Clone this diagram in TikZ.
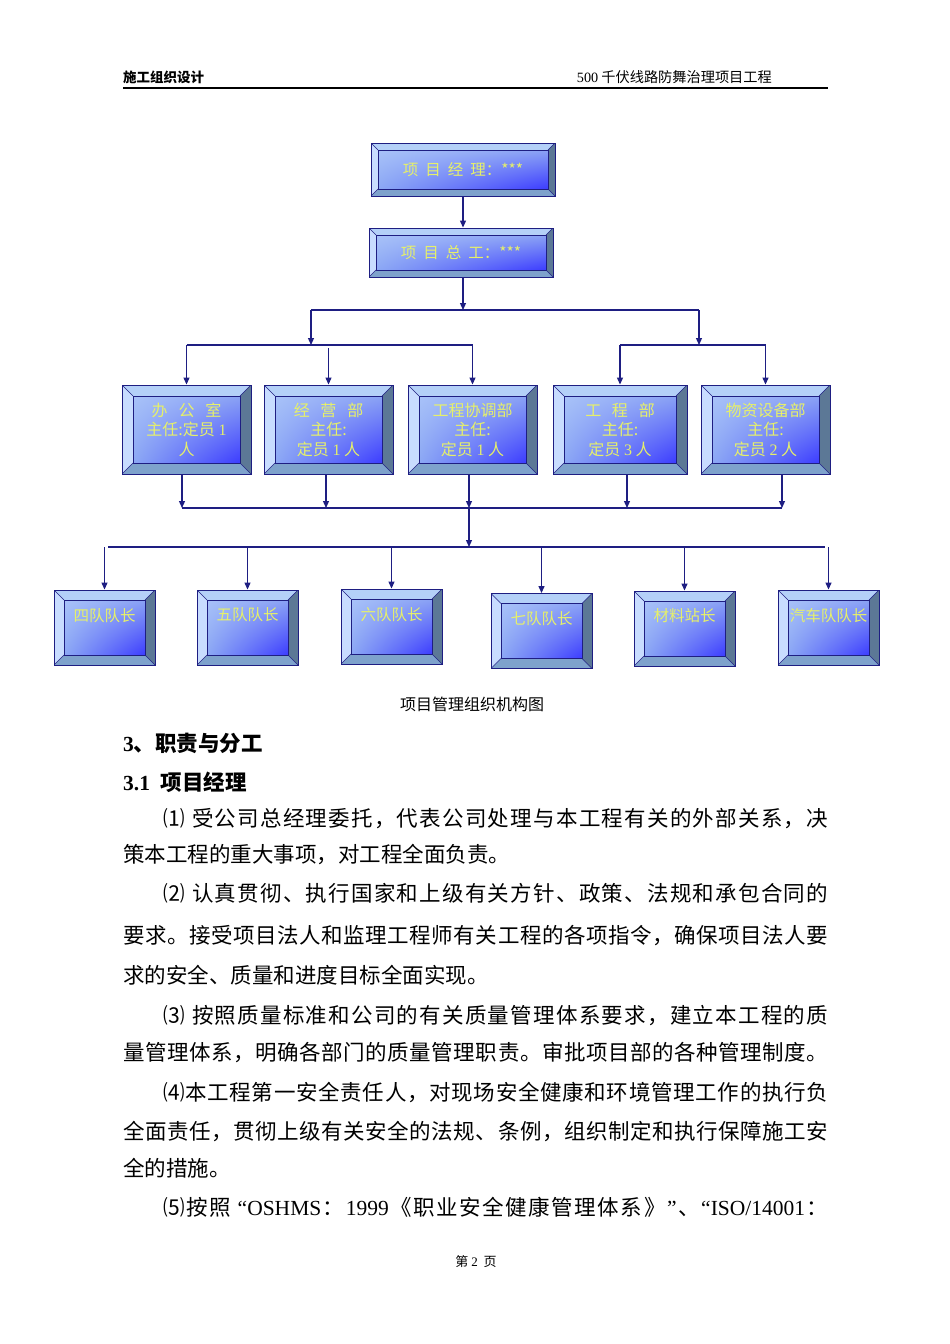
\documentclass[tikz,border=0pt]{standalone}
\usepackage{fontspec}
\setmainfont{Liberation Serif}
\newfontfamily\cjk{Noto Sans CJK SC}
\usetikzlibrary{arrows.meta,calc,shadings}
\definecolor{navy}{HTML}{1E1E82}
\definecolor{boxtxt}{HTML}{E6F06A}
\definecolor{bvtop}{HTML}{B4D0F8}
\definecolor{bvleft}{HTML}{C8DCFF}
\definecolor{bvright}{HTML}{5C7896}
\definecolor{bvbot}{HTML}{7EA2CC}
\definecolor{fUL}{HTML}{A8C2F8}
\definecolor{fUR}{HTML}{8AA2F4}
\definecolor{fLL}{HTML}{8CA8F4}
\definecolor{fLR}{HTML}{3C3CFF}
\newcommand\bodyfont{\cjk\fontsize{21.5}{26}\selectfont}
\newcommand\dg[1]{{\rmfamily #1}}
% spread a line of characters evenly over a given width
\newcommand\spreadline[2]{\hbox to #1{\spreadA#2\relax}}
\def\spreadA#1{{#1}\spreadB}
\def\spreadB#1{\ifx\relax#1\else\hskip 0pt plus 1fil{#1}\expandafter\spreadB\fi}
\tikzset{
  bevw/.store in=\bevw, bevw=10pt,
  bevbox/.style={draw=navy, line width=0.9pt, inner sep=0pt, text=boxtxt,
    font=\cjk\fontsize{16}{19.5}\selectfont, align=center,
    path picture={
      \coordinate (pnw) at (path picture bounding box.north west);
      \coordinate (pse) at (path picture bounding box.south east);
      \coordinate (pne) at (pnw -| pse);
      \coordinate (psw) at (pnw |- pse);
      \coordinate (inw) at ([shift={(\bevw,-\bevw)}]pnw);
      \coordinate (ine) at ([shift={(-\bevw,-\bevw)}]pne);
      \coordinate (ise) at ([shift={(-\bevw,\bevw)}]pse);
      \coordinate (isw) at ([shift={(\bevw,\bevw)}]psw);
      \fill[bvtop] (pnw) -- (pne) -- (ine) -- (inw) -- cycle;
      \fill[bvright] (pne) -- (pse) -- (ise) -- (ine) -- cycle;
      \fill[bvbot] (pse) -- (psw) -- (isw) -- (ise) -- cycle;
      \fill[bvleft] (psw) -- (pnw) -- (inw) -- (isw) -- cycle;
      \shade[upper left=fUL, upper right=fUR, lower left=fLL, lower right=fLR] (inw) rectangle (ise);
      \draw[navy, line width=0.8pt] (inw) rectangle (ise);
      \draw[navy, line width=0.6pt] (pnw) -- (inw) (pne) -- (ine) (pse) -- (ise) (psw) -- (isw);
    }},
  ln/.style={navy, line width=1.2pt},
  arr/.style={navy, line width=1.2pt, -{Triangle[length=7pt,width=6pt]}},
  body/.style={anchor=base west, inner sep=0pt, font=\bodyfont},
}
\begin{document}
\begin{tikzpicture}[x=1pt,y=-1pt]
\fill[white] (0,0) rectangle (950,1344);
\path[use as bounding box] (0,0) rectangle (950,1344);

% header
\node[anchor=west, inner sep=0pt, font=\cjk\bfseries\fontsize{13.5}{15}\selectfont] (hl) at (123,77) {施工组织设计};
\node[anchor=east, inner sep=0pt, font=\cjk\fontsize{14.2}{16}\selectfont] (hr) at (772,77) {\dg{500} 千伏线路防舞治理项目工程};
\coordinate (hla) at (123,88);
\coordinate (hlb) at (828,88);
\draw[black, line width=1.3pt] (hla) -- (hlb);

% top boxes
\node[bevbox, bevw=7pt, minimum width=184pt, minimum height=53pt, font=\cjk\fontsize{15.5}{18}\selectfont] (pm) at (463,169.5) {项\ \ 目\ \ 经\ \ 理：***};
\node[bevbox, bevw=7pt, minimum width=184pt, minimum height=49pt, font=\cjk\fontsize{15.5}{18}\selectfont] (ce) at (461,252.5) {项\ \ 目\ \ 总\ \ 工：***};

% middle boxes
\node[bevbox, bevw=11pt, minimum width=129pt, minimum height=89pt] (m1) at (186.5,429.5) {办\ \ \ 公\ \ \ 室\\主任:定员 \dg{1}\\人};
\node[bevbox, bevw=11pt, minimum width=129pt, minimum height=89pt] (m2) at (328.5,429.5) {经\ \ \ 营\ \ \ 部\\主任:\\定员 \dg{1} 人};
\node[bevbox, bevw=11pt, minimum width=129pt, minimum height=89pt] (m3) at (472.5,429.5) {工程协调部\\主任:\\定员 \dg{1} 人};
\node[bevbox, bevw=11pt, minimum width=134pt, minimum height=89pt] (m4) at (620,429.5) {工\ \ \ 程\ \ \ 部\\主任:\\定员 \dg{3} 人};
\node[bevbox, bevw=11pt, minimum width=129pt, minimum height=89pt] (m5) at (765.5,429.5) {物资设备部\\主任:\\定员 \dg{2} 人};

% bottom boxes
\tikzset{bbox/.style={bevbox, bevw=10pt, minimum width=101pt, minimum height=75pt, font=\cjk\fontsize{15.5}{18}\selectfont}}
\node[bbox] (b1) at (104.5,627.5) {\raisebox{25pt}{四队队长}};
\node[bbox] (b2) at (247.5,627.5) {\raisebox{27pt}{五队队长}};
\node[bbox] (b3) at (391.5,626.5) {\raisebox{25pt}{六队队长}};
\node[bbox] (b4) at (541.5,631) {\raisebox{26pt}{七队队长}};
\node[bbox] (b5) at (684.5,628.5) {\raisebox{27pt}{材料站长}};
\node[bbox] (b6) at (828.5,627.5) {\raisebox{25pt}{汽车队队长}};

% connectors top
\draw[arr] (pm.south) -- (pm.south |- ce.north);
\coordinate (cs) at ([xshift=2pt]ce.south);
\coordinate (t1) at (463,310);
\coordinate (tl) at (311,310);
\coordinate (tr) at (699,310);
\draw[arr] (cs) -- (t1);
\draw[ln] (tl) -- (tr);
\coordinate (gl) at (311,345);
\coordinate (gr) at (699,345);
\draw[arr] (tl) -- (gl);
\draw[arr] (tr) -- (gr);
\draw[ln] (m1.north |- gl) -- (m3.north |- gl);
\draw[arr] (m1.north |- gl) -- (m1.north);
\coordinate (g2) at ([yshift=-3pt]m2.north |- gl);
\draw[arr] (g2) -- (m2.north);
\draw[arr] (m3.north |- gl) -- (m3.north);
\draw[ln] (m4.north |- gr) -- (m5.north |- gr);
\draw[arr] (m4.north |- gr) -- (m4.north);
\draw[arr] (m5.north |- gr) -- (m5.north);

% connectors middle to bottom
\coordinate (hm) at (469,508);
\coordinate (o1) at ([xshift=-4.5pt]m1.south);
\coordinate (o2) at ([xshift=-2.5pt]m2.south);
\coordinate (o3) at ([xshift=-3.5pt]m3.south);
\coordinate (o4) at ([xshift=7pt]m4.south);
\coordinate (o5) at ([xshift=16.5pt]m5.south);
\draw[ln] (o1 |- hm) -- (o5 |- hm);
\foreach \o in {o1,o2,o3,o4,o5} {\draw[arr] (\o) -- (\o |- hm);}
\coordinate (hb) at (469,547);
\coordinate (hbl) at (108,547);
\coordinate (hbr) at (825,547);
\draw[arr] (hm) -- (hb);
\draw[ln] (hbl) -- (hbr);
\foreach \b in {b1,b2,b3,b4,b5,b6} {\draw[arr] (\b.north |- hb) -- (\b.north);}

% caption
\node[inner sep=0pt, font=\cjk\fontsize{16}{18}\selectfont] (cap) at (472,704) {项目管理组织机构图};

% headings
\node[anchor=base west, inner sep=0pt, font=\bfseries\fontsize{21.5}{26}\selectfont] (h1) at (123,751) {3{\cjk\bfseries 、职责与分工}};
\node[anchor=base west, inner sep=0pt, font=\bfseries\fontsize{21.5}{26}\selectfont] (h2) at (123,790) {3.1\ \ {\cjk\bfseries 项目经理}};

% body
\node[body] (l1) at (163,826) {\spreadline{665pt}{⑴~受公司总经理委托，代表公司处理与本工程有关的外部关系，决}};
\node[body] (l2) at (123,862) {策本工程的重大事项，对工程全面负责。};
\node[body] (l3) at (163,901) {\spreadline{665pt}{⑵~认真贯彻、执行国家和上级有关方针、政策、法规和承包合同的}};
\node[body] (l4) at (123,943) {\spreadline{705pt}{要求。接受项目法人和监理工程师有关工程的各项指令，确保项目法人要}};
\node[body] (l5) at (123,983) {求的安全、质量和进度目标全面实现。};
\node[body] (l6) at (163,1023) {\spreadline{665pt}{⑶~按照质量标准和公司的有关质量管理体系要求，建立本工程的质}};
\node[body] (l7) at (123,1060) {\spreadline{705pt}{量管理体系，明确各部门的质量管理职责。审批项目部的各种管理制度。}};
\node[body] (l8) at (163,1100) {\spreadline{665pt}{⑷本工程第一安全责任人，对现场安全健康和环境管理工作的执行负}};
\node[body] (l9) at (123,1139) {\spreadline{705pt}{全面责任，贯彻上级有关安全的法规、条例，组织制定和执行保障施工安}};
\node[body] (l10) at (123,1176) {全的措施。};
\node[body] (l11) at (163,1215) {\spreadline{665pt}{⑸按照{\rmfamily\ “OSHMS}：{\rmfamily 1999}《职业安全健康管理体系》{\rmfamily ”}、{\rmfamily “ISO/14001}：}};

% footer
\node[inner sep=0pt, font=\cjk\fontsize{13}{15}\selectfont] (ft) at (476,1262) {第\ \dg{2}\ \ 页};
\end{tikzpicture}
\end{document}
